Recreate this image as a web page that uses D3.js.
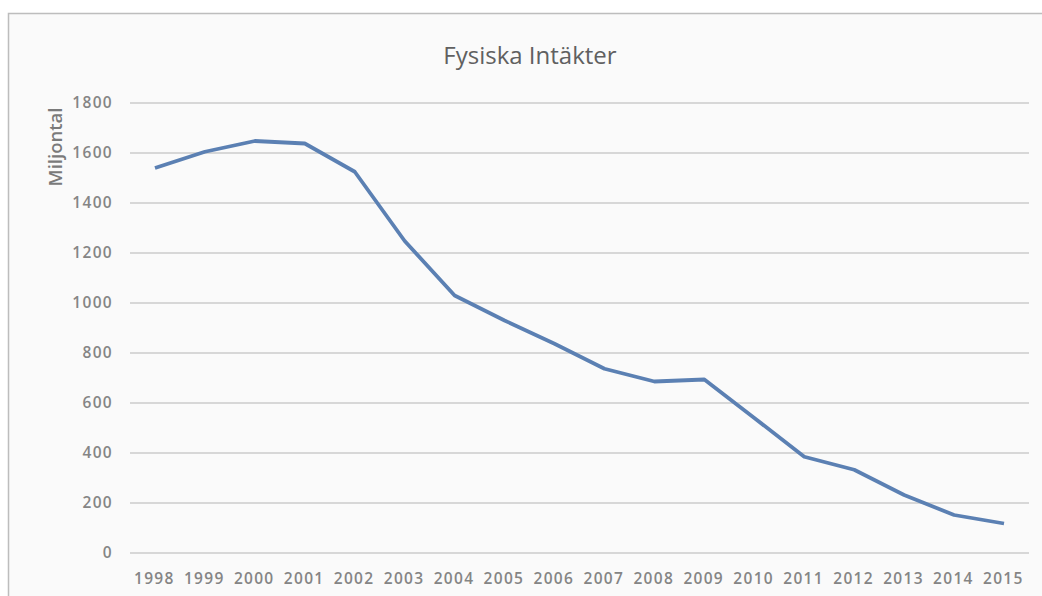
<!DOCTYPE html>
<html>
<head>
<meta charset="utf-8">
<script src="https://cdn.jsdelivr.net/npm/d3@7"></script>
<style>
  body { margin: 0; background: #fff; }
  text { font-family: "Open Sans", sans-serif; }
</style>
</head>
<body>
<svg width="1042" height="596"></svg>
<script>
var years = ['1998','1999','2000','2001','2002','2003','2004','2005','2006','2007','2008','2009','2010','2011','2012','2013','2014','2015'];
var intakter = [1540, 1605, 1648, 1638, 1525, 1248, 1030, 930, 837, 737, 686, 694, 540, 385, 333, 232, 152, 118];
var yTicks = [0, 200, 400, 600, 800, 1000, 1200, 1400, 1600, 1800];

var svg = d3.select("svg");

// ram runt diagrammet
svg.append("rect")
    .attr("x", 8.5).attr("y", 13.5)
    .attr("width", 1100).attr("height", 700)
    .attr("fill", "#fafafa")
    .attr("stroke", "#bdbdbd")
    .attr("stroke-width", 1.5);

var margin = {left: 130, right: 1029, top: 103, bottom: 553};

var x = d3.scaleBand()
    .domain(years)
    .range([margin.left, margin.right]);

var y = d3.scaleLinear()
    .domain([0, 1800])
    .range([margin.bottom, margin.top]);

// rutnät
svg.append("g").selectAll("line")
    .data(yTicks)
    .enter().append("line")
    .attr("x1", margin.left).attr("x2", margin.right)
    .attr("y1", function(d) { return y(d); })
    .attr("y2", function(d) { return y(d); })
    .attr("stroke", "#b3b3b3")
    .attr("stroke-width", 1.2);

var yAxis = svg.append("g")
    .attr("transform", "translate(" + (margin.left - 17) + ",0)")
    .call(d3.axisLeft(y).tickValues(yTicks).tickFormat(d3.format("d")).tickSize(0).tickPadding(0));
yAxis.select(".domain").remove();
yAxis.attr("font-family", null).attr("font-size", null);
yAxis.selectAll("text")
    .attr("font-size", 15.5)
    .attr("font-weight", 600)
    .attr("letter-spacing", 1.3)
    .attr("fill", "#858585");

var xAxis = svg.append("g")
    .attr("transform", "translate(-0.65," + margin.bottom + ")")
    .call(d3.axisBottom(x).tickSize(0).tickPadding(20));
xAxis.select(".domain").remove();
xAxis.attr("font-family", null).attr("font-size", null);
xAxis.selectAll("text")
    .attr("font-size", 15.5)
    .attr("font-weight", 600)
    .attr("letter-spacing", 1.3)
    .attr("fill", "#858585");

var line = d3.line()
    .x(function(d, i) { return x(years[i]) + x.bandwidth() / 2; })
    .y(function(d) { return y(d); });

svg.append("path")
    .datum(intakter)
    .attr("d", line)
    .attr("fill", "none")
    .attr("stroke", "#5b80b3")
    .attr("stroke-width", 3.8)
    .attr("stroke-linejoin", "round");

svg.append("text")
    .attr("x", 530).attr("y", 64)
    .attr("text-anchor", "middle")
    .attr("font-size", 24)
    .attr("fill", "#606060")
    .text("Fysiska Intäkter");

svg.append("text")
    .attr("transform", "translate(62,147) rotate(-90)")
    .attr("text-anchor", "middle")
    .attr("font-size", 18.5)
    .attr("font-weight", 600)
    .attr("fill", "#7a7a7a")
    .text("Miljontal");
</script>
</body>
</html>
